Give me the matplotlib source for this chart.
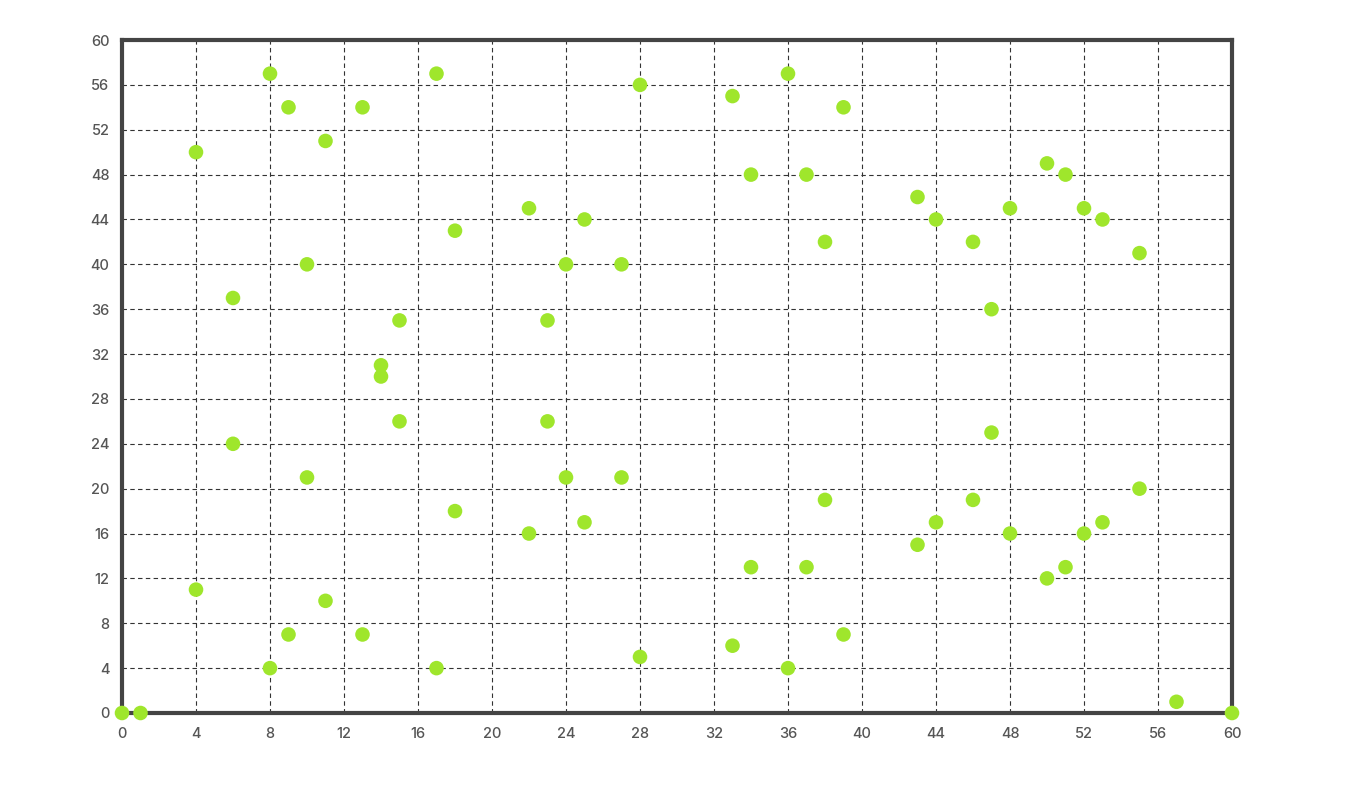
import matplotlib
matplotlib.use("Agg")
import matplotlib.pyplot as plt

# 散布図のデータ
xs = [0, 1, 4, 4, 6, 6, 8, 8, 9, 9, 10, 10, 11, 11, 13, 13, 14, 14, 15, 15,
      17, 17, 18, 18, 22, 22, 23, 23, 24, 24, 25, 25, 27, 27, 28, 28,
      33, 33, 34, 34, 36, 36, 37, 37, 38, 38, 39, 39, 43, 43, 44, 44,
      46, 46, 47, 47, 48, 48, 50, 50, 51, 51, 52, 52, 53, 53, 55, 55, 57, 60]
ys = [0, 0, 50, 11, 37, 24, 57, 4, 54, 7, 40, 21, 51, 10, 54, 7, 31, 30, 35, 26,
      57, 4, 43, 18, 45, 16, 35, 26, 40, 21, 44, 17, 40, 21, 56, 5,
      55, 6, 48, 13, 57, 4, 48, 13, 42, 19, 54, 7, 46, 15, 44, 17,
      42, 19, 36, 25, 45, 16, 49, 12, 48, 13, 45, 16, 44, 17, 41, 20, 1, 0]
ticks = list(range(0, 61, 4))

plt.rcParams['font.family'] = ['Inter', 'DejaVu Sans']
plt.rcParams['font.weight'] = 'medium'

fig = plt.figure(figsize=(13.51, 8.08), dpi=100)
ax = fig.add_axes([122 / 1351, 95 / 808, 1110 / 1351, 673 / 808])

ax.scatter(xs, ys, s=110, color='#9fe62c', edgecolors='none', zorder=3, clip_on=False)

ax.set_xlim(0, 60)
ax.set_ylim(0, 60)
ax.set_xticks(ticks)
ax.set_yticks(ticks)
ax.grid(True, linestyle=(0, (4, 3)), color='#333333', linewidth=0.8)
ax.set_axisbelow(True)
ax.tick_params(length=0, labelsize=10.5, labelcolor='#555555')
ax.tick_params(axis='x', pad=10)
ax.tick_params(axis='y', pad=9)
for sp in ax.spines.values():
    sp.set_color('#444444')
    sp.set_linewidth(3)
    sp.set_zorder(2)

fig.savefig('out.png', dpi=100)
